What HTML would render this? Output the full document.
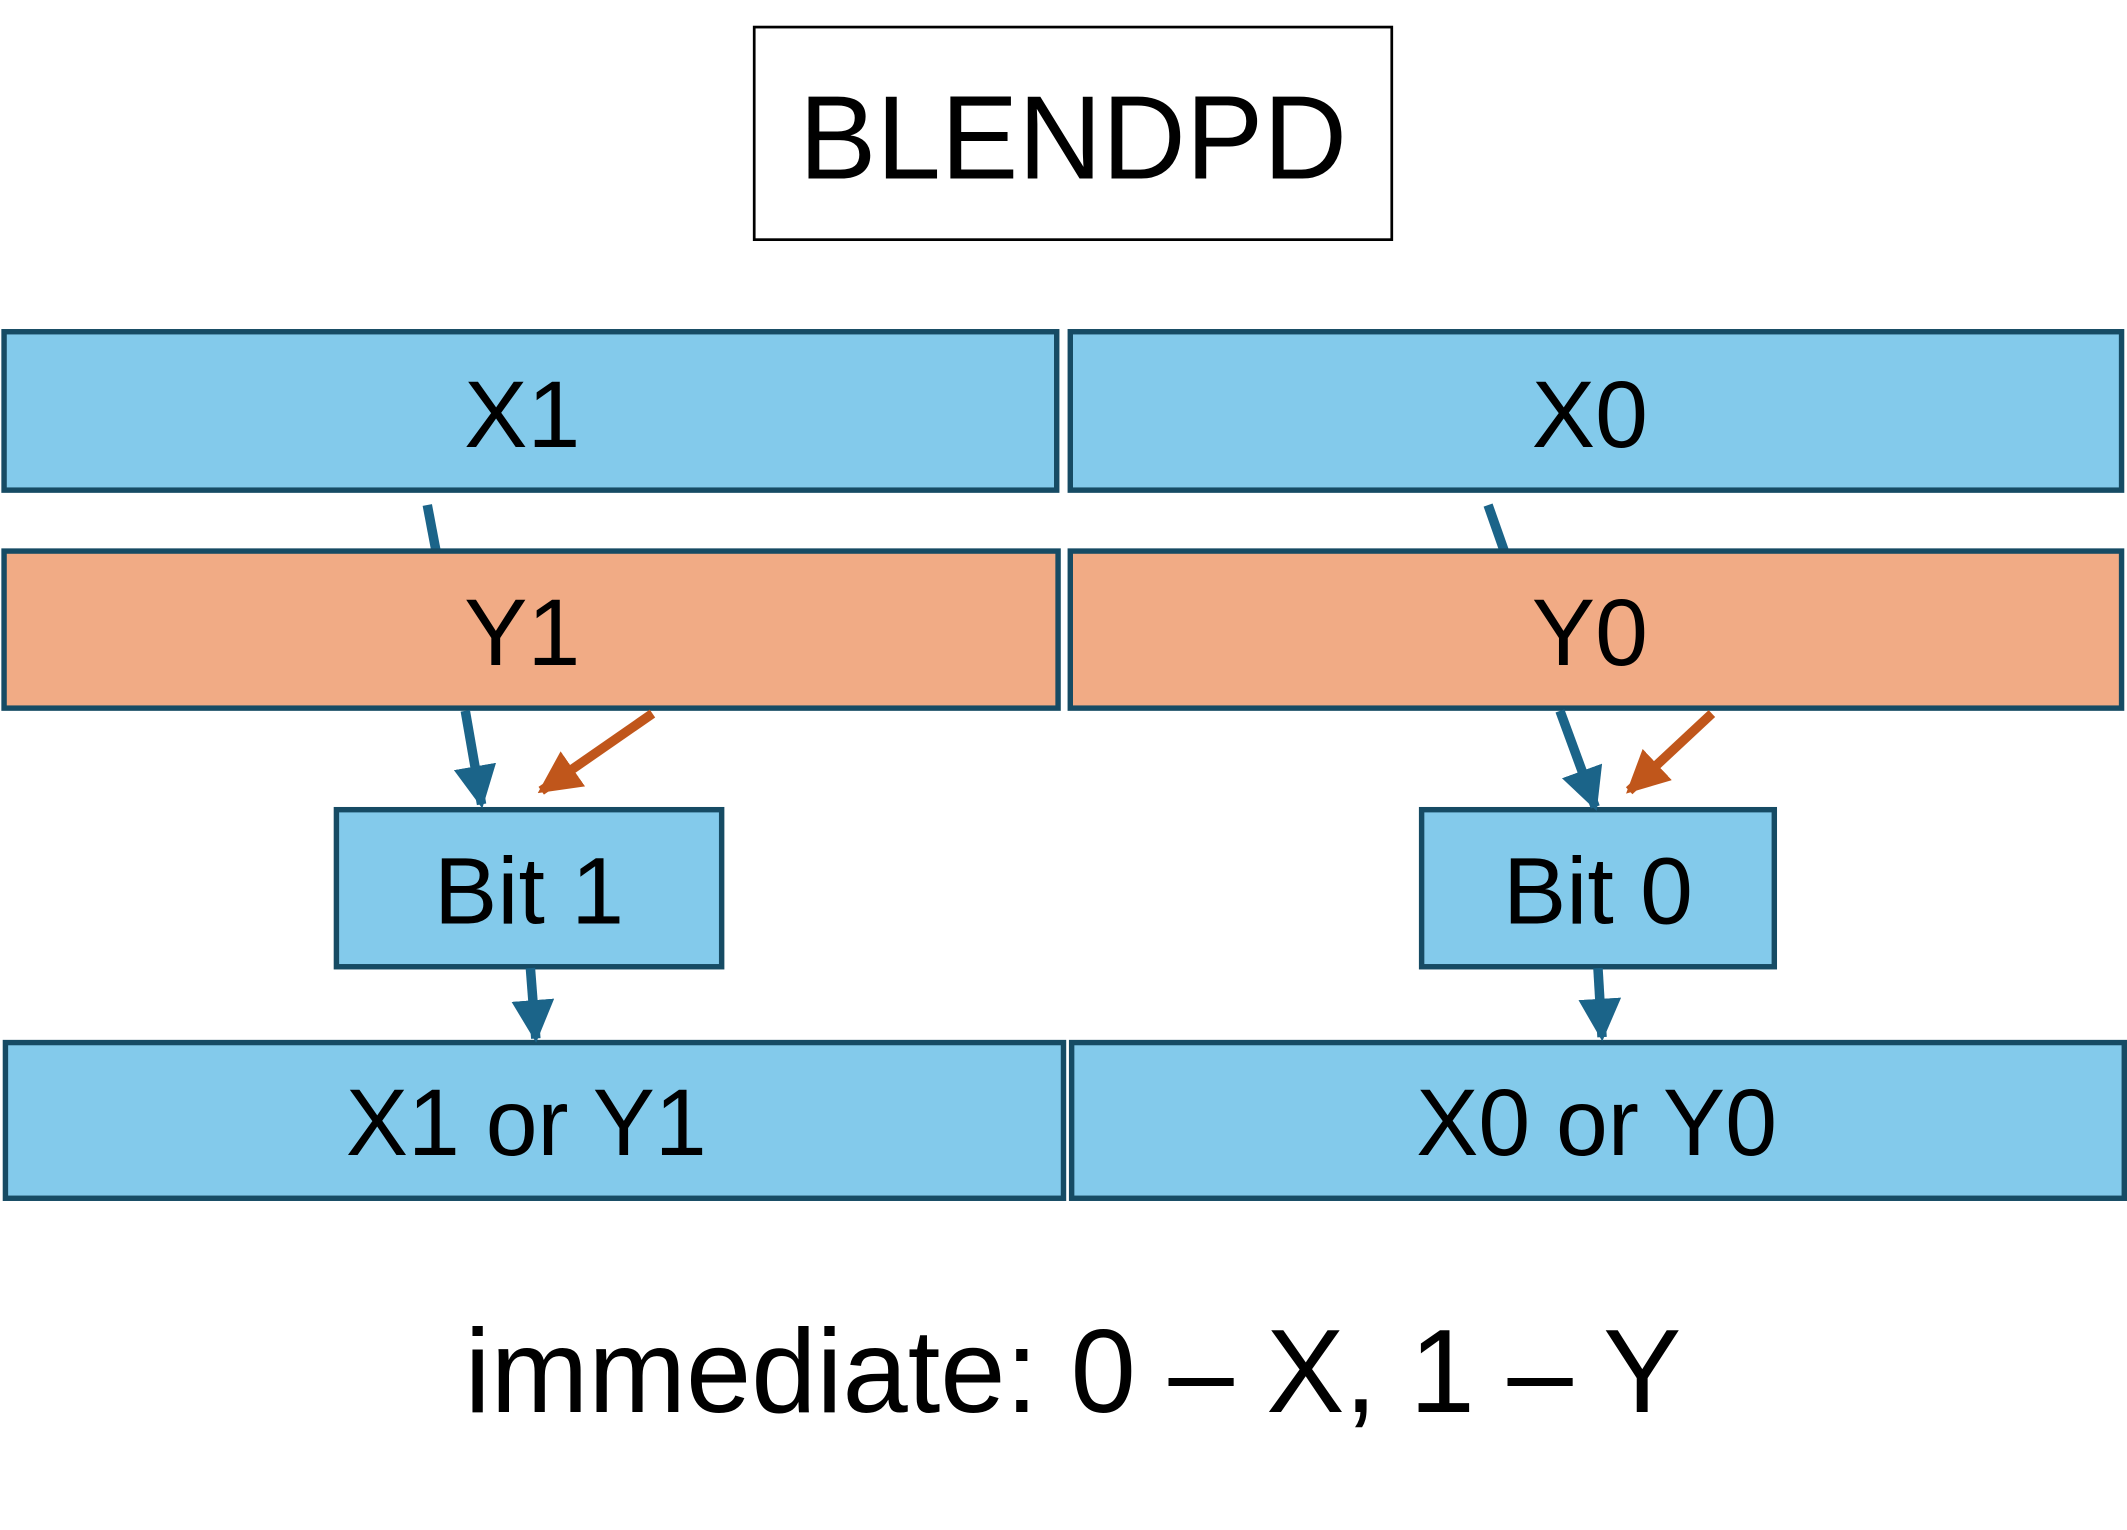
<!DOCTYPE html>
<html><head><meta charset="utf-8"><style>
html,body{margin:0;padding:0;background:#fff;}
svg{display:block;}
text{font-family:"Liberation Sans","DejaVu Sans",sans-serif;fill:#000;text-anchor:middle;}
</style></head><body>
<svg width="2127" height="1530" viewBox="0 0 1568 1130" preserveAspectRatio="none" xmlns="http://www.w3.org/2000/svg">
<defs>
<marker id="hb" viewBox="0 0 10 10" refX="9" refY="5" markerWidth="4.5" markerHeight="4.5" orient="auto" markerUnits="strokeWidth"><path d="M0,0 L10,5 L0,10 z" fill="#1B6489"/></marker>
<marker id="ho" viewBox="0 0 10 10" refX="9" refY="5" markerWidth="4.5" markerHeight="4.5" orient="auto" markerUnits="strokeWidth"><path d="M0,0 L10,5 L0,10 z" fill="#C0561B"/></marker>
</defs>
<rect x="556" y="20" width="470" height="157" fill="#fff" stroke="#000" stroke-width="2"/>
<text x="791" y="132" font-size="88" textLength="404" lengthAdjust="spacingAndGlyphs">BLENDPD</text>

<g stroke="#1B6489" stroke-width="7" fill="none">
<line x1="315" y1="373" x2="322" y2="410"/>
<line x1="1097" y1="373" x2="1110" y2="410"/>
</g>

<g stroke="#164B64" stroke-width="4">
<rect x="3" y="245" width="776" height="117" fill="#83CAEB"/>
<rect x="789" y="245" width="775" height="117" fill="#83CAEB"/>
<rect x="3" y="407" width="777" height="116" fill="#F1AB85"/>
<rect x="789" y="407" width="775" height="116" fill="#F1AB85"/>
<rect x="248" y="598" width="284" height="116" fill="#83CAEB"/>
<rect x="1048" y="598" width="260" height="116" fill="#83CAEB"/>
<rect x="4" y="770" width="780" height="115" fill="#83CAEB"/>
<rect x="790" y="770" width="776" height="115" fill="#83CAEB"/>
</g>

<g font-size="70">
<text x="385" y="330">X1</text>
<text x="1172" y="330">X0</text>
<text x="385" y="491">Y1</text>
<text x="1172" y="491">Y0</text>
<text x="390" y="682">Bit 1</text>
<text x="1178" y="682">Bit 0</text>
<text x="388" y="853" textLength="266" lengthAdjust="spacingAndGlyphs">X1 or Y1</text>
<text x="1177" y="853" textLength="266" lengthAdjust="spacingAndGlyphs">X0 or Y0</text>
</g>

<g stroke-width="7" fill="none">
<line x1="343" y1="525" x2="355" y2="594" stroke="#1B6489" marker-end="url(#hb)"/>
<line x1="481" y1="527" x2="399" y2="584" stroke="#C0561B" marker-end="url(#ho)"/>
<line x1="391" y1="715" x2="395" y2="767" stroke="#1B6489" marker-end="url(#hb)"/>
<line x1="1150" y1="525" x2="1176" y2="596" stroke="#1B6489" marker-end="url(#hb)"/>
<line x1="1262" y1="527" x2="1201" y2="584" stroke="#C0561B" marker-end="url(#ho)"/>
<line x1="1178" y1="715" x2="1181" y2="766" stroke="#1B6489" marker-end="url(#hb)"/>
</g>

<text x="791" y="1043" font-size="88" textLength="897" lengthAdjust="spacingAndGlyphs">immediate: 0 – X, 1 – Y</text>
</svg>
</body></html>
